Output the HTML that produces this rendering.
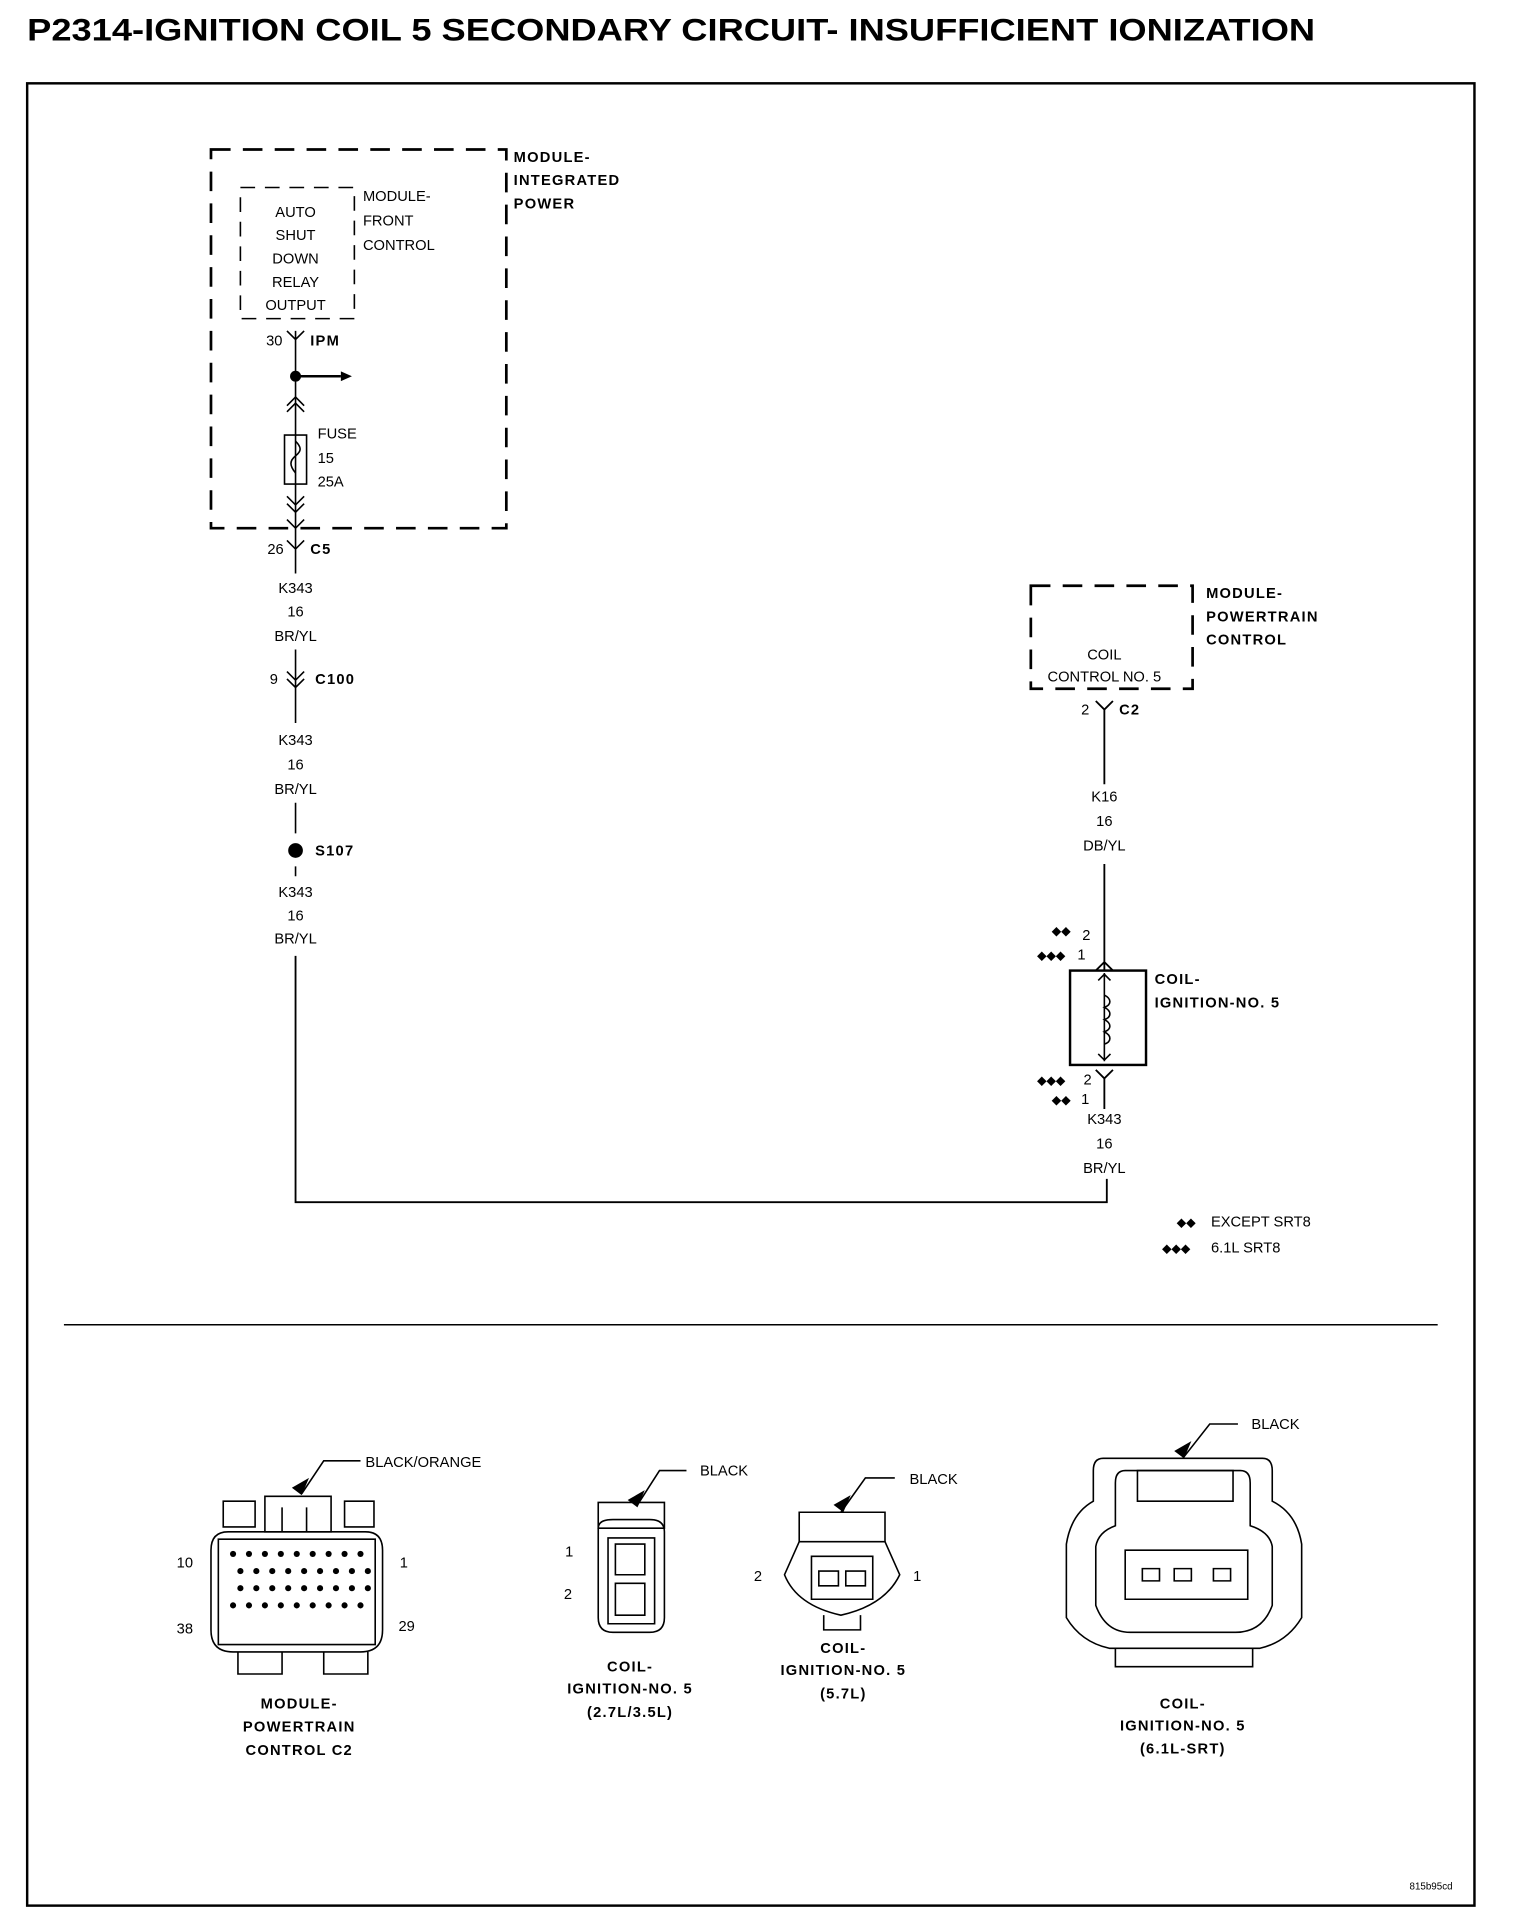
<!DOCTYPE html>
<html><head><meta charset="utf-8"><style>
html,body{margin:0;padding:0;background:#fff;}
svg{display:block;}
text{font-family:"Liberation Sans",sans-serif;fill:#000;}
.s{font-size:12px;}
.b{font-size:12px;font-weight:bold;letter-spacing:1px;}
</style></head><body>
<svg width="1520" height="1924" viewBox="0 0 1240 1570" xmlns="http://www.w3.org/2000/svg">
<rect width="1240" height="1570" fill="#fff"/>
<text x="22" y="33" font-size="26" font-weight="bold" textLength="1051" lengthAdjust="spacingAndGlyphs">P2314-IGNITION COIL 5 SECONDARY CIRCUIT- INSUFFICIENT IONIZATION</text>
<rect x="22" y="68" width="1181" height="1487" fill="none" stroke="#000" stroke-width="2"/>

<g fill="none" stroke="#000">
<rect x="172" y="122" width="241" height="309" stroke-width="2.2" stroke-dasharray="16,10"/>
<rect x="196" y="153" width="93" height="107" stroke-width="1.3" stroke-dasharray="12,8"/>
<!-- left wire -->
<path d="M241 270V448M234 270l7 7 7-7" stroke-width="1.3"/>
<path d="M241 307H278" stroke-width="2"/>
<path d="M234 331l7-7 7 7M234 336l7-7 7 7" stroke-width="1.3"/>
<rect x="232" y="355" width="18" height="40" stroke-width="1.3"/>
<path d="M241 360c5 5 5 8 0 12c-5 4-5 8 0 14" stroke-width="1.3"/>
<path d="M234 405l7 7 7-7M234 411l7 7 7-7M234 424l7 7 7-7" stroke-width="1.3"/>
<path d="M234 441l7 7 7-7M241 448V468" stroke-width="1.3"/>
<path d="M241 530V566M234 548l7 7 7-7M234 554l7 7 7-7M241 561V590" stroke-width="1.3"/>
<path d="M241 655V680M241 707V715" stroke-width="1.3"/>
<path d="M241 780V981H903V962" stroke-width="1.5"/>
<!-- right -->
<rect x="841" y="478" width="132" height="84" stroke-width="2.2" stroke-dasharray="16,10"/>
<path d="M894 572l7 7 7-7M901 579V640M901 705V792M894 792l7-7 7 7" stroke-width="1.5"/>
<rect x="873" y="792" width="62" height="77" stroke-width="2"/>
<path d="M901 794V866M896 800l5-5 5 5M896 860l5 5 5-5M901 812c6 3 6 8 0 10c6 3 6 8 0 10c6 3 6 8 0 10c6 3 6 8 0 10" stroke-width="1.3"/>
<path d="M894 873l7 7 7-7M901 880V905" stroke-width="1.5"/>
<path d="M52 1081H1173" stroke-width="1.3"/>
</g>
<circle cx="241" cy="307" r="4.5"/>
<path d="M278 303l9 4-9 4z"/>
<circle cx="241" cy="694" r="6"/>

<g class="s" text-anchor="middle">
<text x="241" y="177">AUTO</text><text x="241" y="196">SHUT</text><text x="241" y="215">DOWN</text><text x="241" y="234">RELAY</text><text x="241" y="253">OUTPUT</text>
<text x="241" y="484">K343</text><text x="241" y="503">16</text><text x="241" y="523">BR/YL</text>
<text x="241" y="608">K343</text><text x="241" y="628">16</text><text x="241" y="648">BR/YL</text>
<text x="241" y="732">K343</text><text x="241" y="751">16</text><text x="241" y="770">BR/YL</text>
<text x="901" y="538">COIL</text><text x="901" y="556">CONTROL NO. 5</text>
<text x="901" y="654">K16</text><text x="901" y="674">16</text><text x="901" y="694">DB/YL</text>
<text x="901" y="917">K343</text><text x="901" y="937">16</text><text x="901" y="957">BR/YL</text>
</g>
<g class="s">
<text x="296" y="164">MODULE-</text><text x="296" y="184">FRONT</text><text x="296" y="204">CONTROL</text>
<text x="217" y="282">30</text><text x="218" y="452">26</text><text x="220" y="558">9</text>
<text x="259" y="358">FUSE</text><text x="259" y="378">15</text><text x="259" y="397">25A</text>
<text x="882" y="583">2</text>
<text x="883" y="767">2</text><text x="879" y="783">1</text>
<text x="884" y="885">2</text><text x="882" y="901">1</text>
<text x="988" y="1001">EXCEPT SRT8</text><text x="988" y="1022">6.1L SRT8</text>
</g>
<g font-size="10">
<text x="858" y="763">◆◆</text><text x="846" y="783">◆◆◆</text>
<text x="846" y="885">◆◆◆</text><text x="858" y="901">◆◆</text>
<text x="960" y="1001">◆◆</text><text x="948" y="1022">◆◆◆</text>
</g>
<g class="b">
<text x="419" y="132">MODULE-</text><text x="419" y="151">INTEGRATED</text><text x="419" y="170">POWER</text>
<text x="253" y="282">IPM</text><text x="253" y="452">C5</text><text x="257" y="558">C100</text><text x="257" y="698">S107</text>
<text x="984" y="488">MODULE-</text><text x="984" y="507">POWERTRAIN</text><text x="984" y="526">CONTROL</text>
<text x="913" y="583">C2</text>
<text x="942" y="803">COIL-</text><text x="942" y="822">IGNITION-NO. 5</text>
</g>

<!-- bottom connectors -->
<g fill="none" stroke="#000" stroke-width="1.3">
<!-- PCM C2 -->
<path d="M246 1219L264 1192H294"/>
<path d="M182 1225H208V1246H182ZM281 1225H305V1246H281Z"/>
<path d="M216 1221H270V1250H216Z"/>
<path d="M186 1250H298Q312 1250 312 1265V1330Q312 1348 294 1348H190Q172 1348 172 1330V1265Q172 1250 186 1250Z"/>
<path d="M178 1256H306V1342H178Z"/>
<path d="M194 1348V1366H230V1348M264 1348V1366H300V1348"/>
<path d="M230 1230V1250M250 1230V1250"/>
<!-- coil 2.7 -->
<path d="M520 1228L538 1200H560"/>
<path d="M488 1226H542V1247H488Z"/>
<path d="M488 1247Q488 1240 500 1240H530Q542 1240 542 1250V1320Q542 1332 530 1332H500Q488 1332 488 1320Z"/>
<path d="M496 1255H534V1325H496Z"/>
<path d="M502 1260H526V1285H502ZM502 1292H526V1318H502Z"/>
<!-- coil 5.7 -->
<path d="M686 1234L706 1206H730"/>
<path d="M652 1234H722V1258H652Z"/>
<path d="M652 1258L640 1285Q650 1310 686 1318Q722 1310 734 1285L722 1258"/>
<path d="M662 1270H712V1305H662Z"/>
<path d="M668 1282H684V1294H668ZM690 1282H706V1294H690Z"/>
<path d="M672 1318V1330H702V1318"/>
<!-- coil 6.1 -->
<path d="M965 1190L987 1162H1010"/>
<path d="M900 1190H1030Q1038 1190 1038 1200V1225Q1058 1235 1062 1260V1320Q1050 1340 1028 1345H905Q882 1340 870 1320V1260Q874 1235 892 1225V1200Q892 1190 900 1190Z"/>
<path d="M918 1200H1012Q1020 1200 1020 1210V1245Q1036 1250 1038 1262V1310Q1030 1332 1008 1332H922Q902 1332 894 1310V1262Q896 1250 910 1245V1210Q910 1200 918 1200Z"/>
<path d="M928 1200H1006V1225H928Z"/>
<path d="M918 1265H1018V1305H918Z"/>
<path d="M932 1280H946V1290H932ZM958 1280H972V1290H958ZM990 1280H1004V1290H990Z"/>
<path d="M910 1345V1360H1022V1345"/>
</g>
<g fill="#000">
<path d="M238 1214l14-8-6 14z"/><path d="M512 1224l14-8-6 14z"/><path d="M680 1228l14-8-6 14z"/><path d="M958 1184l14-8-6 14z"/>
</g>
<g fill="#000">
<g id="r1"><circle cx="190" cy="1268" r="2.5"/><circle cx="203" cy="1268" r="2.5"/><circle cx="216" cy="1268" r="2.5"/><circle cx="229" cy="1268" r="2.5"/><circle cx="242" cy="1268" r="2.5"/><circle cx="255" cy="1268" r="2.5"/><circle cx="268" cy="1268" r="2.5"/><circle cx="281" cy="1268" r="2.5"/><circle cx="294" cy="1268" r="2.5"/></g>
<use href="#r1" y="14" x="6"/><use href="#r1" y="28" x="6"/><use href="#r1" y="42"/>
</g>
<g class="s">
<text x="298" y="1197">BLACK/ORANGE</text><text x="571" y="1204">BLACK</text><text x="742" y="1211">BLACK</text><text x="1021" y="1166">BLACK</text>
<text x="144" y="1279">10</text><text x="326" y="1279">1</text><text x="144" y="1333">38</text><text x="325" y="1331">29</text>
<text x="461" y="1270">1</text><text x="460" y="1305">2</text><text x="615" y="1290">2</text><text x="745" y="1290">1</text>
<text x="1150" y="1542" font-size="8">815b95cd</text>
</g>
<g class="b" text-anchor="middle">
<text x="244" y="1394">MODULE-</text><text x="244" y="1413">POWERTRAIN</text><text x="244" y="1432">CONTROL C2</text>
<text x="514" y="1364">COIL-</text><text x="514" y="1382">IGNITION-NO. 5</text><text x="514" y="1401">(2.7L/3.5L)</text>
<text x="688" y="1349">COIL-</text><text x="688" y="1367">IGNITION-NO. 5</text><text x="688" y="1386">(5.7L)</text>
<text x="965" y="1394">COIL-</text><text x="965" y="1412">IGNITION-NO. 5</text><text x="965" y="1431">(6.1L-SRT)</text>
</g>
</svg>
</body></html>
